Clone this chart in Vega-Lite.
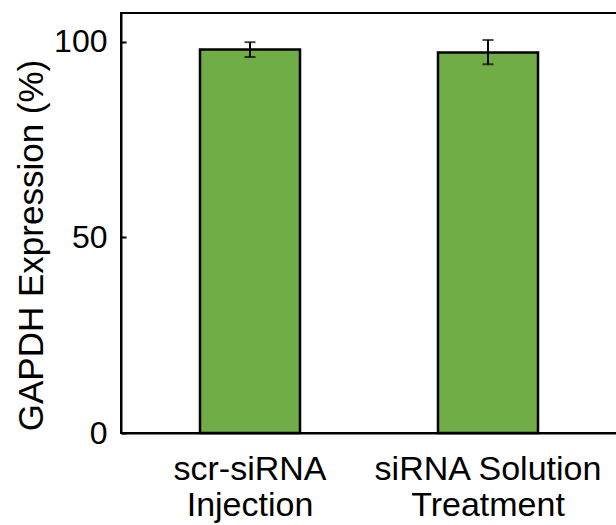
{
  "$schema": "https://vega.github.io/schema/vega-lite/v6.json",
  "autosize": {"type": "none"},
  "padding": {"left": 121, "top": 13, "right": 0, "bottom": 92},
  "width": 496,
  "height": 420,
  "background": "white",
  "config": {
    "view": {"stroke": "black", "strokeWidth": 2},
    "font": "Liberation Sans",
    "axis": {
      "domainColor": "black",
      "domainWidth": 2,
      "tickColor": "black",
      "tickWidth": 2,
      "labelColor": "black",
      "titleColor": "black",
      "grid": false
    }
  },
  "data": {
    "values": [
      {"group": "scr-siRNA Injection", "value": 97.95, "lo": 96.05, "hi": 99.85},
      {"group": "siRNA Solution Treatment", "value": 97.2, "lo": 94.2, "hi": 100.4}
    ]
  },
  "encoding": {
    "x": {
      "field": "group",
      "type": "nominal",
      "sort": null,
      "scale": {"paddingInner": 0, "paddingOuter": 0.042},
      "axis": {
        "title": null,
        "labelAngle": 0,
        "labelFontSize": 34,
        "labelLineHeight": 36,
        "labelBaseline": "top",
        "labelPadding": 24,
        "labelLimit": 0,
        "tickSize": -5,
        "labelExpr": "datum.value == 'scr-siRNA Injection' ? ['scr-siRNA', 'Injection'] : ['siRNA Solution', 'Treatment']"
      }
    }
  },
  "layer": [
    {
      "mark": {"type": "bar", "size": 100, "fill": "#70AD47", "stroke": "black", "strokeWidth": 2.5},
      "encoding": {
        "y": {
          "field": "value",
          "type": "quantitative",
          "scale": {"domain": [0, 107.3], "nice": false},
          "axis": {
            "title": "GAPDH Expression (%)",
            "values": [0, 50, 100],
            "labelFontSize": 32,
            "labelPadding": 19,
            "tickSize": -5,
            "titleFontSize": 35,
            "titleFontWeight": "normal",
            "titleAngle": -90,
            "titleBaseline": "alphabetic",
            "titleAlign": "center",
            "titleX": -79,
            "titleY": 232
          }
        }
      }
    },
    {
      "mark": {"type": "rule", "color": "black", "strokeWidth": 2},
      "encoding": {
        "y": {"field": "lo", "type": "quantitative"},
        "y2": {"field": "hi"}
      }
    },
    {
      "mark": {"type": "tick", "color": "black", "size": 11, "thickness": 2},
      "encoding": {"y": {"field": "lo", "type": "quantitative"}}
    },
    {
      "mark": {"type": "tick", "color": "black", "size": 11, "thickness": 2},
      "encoding": {"y": {"field": "hi", "type": "quantitative"}}
    }
  ]
}
